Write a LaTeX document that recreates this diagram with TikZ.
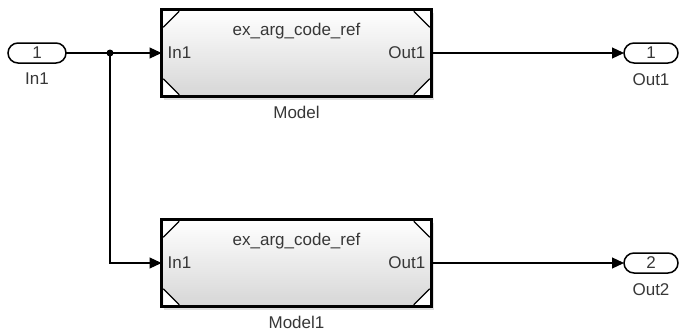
\documentclass[tikz,border=0pt]{standalone}
\usepackage{fontspec}
\setmainfont{Liberation Sans}
\usepackage{tikz}
\usetikzlibrary{arrows.meta, positioning, shadows}
\definecolor{blockgrey}{RGB}{214,214,214}
\definecolor{textgrey}{RGB}{55,55,55}

\begin{document}
\begin{tikzpicture}[x=1pt, y=1pt,
  lbl/.style={font=\fontsize{17}{19}\selectfont, text=textgrey, inner sep=0pt},
  refblock/.style={draw=black, line width=3.5pt, outer sep=0pt, minimum width=270pt, minimum height=87pt,
    top color=white, bottom color=blockgrey,
    drop shadow={opacity=0.25, shadow xshift=2pt, shadow yshift=-3pt}},
  port/.style={draw=black, line width=1.5pt, outer sep=0pt, rounded corners=10pt, minimum height=20pt, fill=white, lbl},
  sig/.style={line width=1.2pt, -{Triangle[length=12pt, width=11pt]}}
]
  \useasboundingbox (0,0) rectangle (681,-335);

  % Inport and outports
  \node[port, minimum width=58pt] (in1) at (37,-53) {1};
  \node[lbl, below=10pt of in1] (in1lbl) {In1};
  \node[port, minimum width=54pt] (out1) at (651,-53) {1};
  \node[lbl, below=10pt of out1] (out1lbl) {Out1};
  \node[port, minimum width=54pt] (out2) at (651,-263) {2};
  \node[lbl, below=10pt of out2] (out2lbl) {Out2};

  % Model
  \node[refblock] (model) at (296.5,-53) {};
  \node[lbl, anchor=north] (modelname) at ([yshift=-13pt]model.north) {ex\_arg\_code\_ref};
  \node[lbl, anchor=west] (modelin) at ([xshift=6pt]model.west) {In1};
  \node[lbl, anchor=east] (modelout) at ([xshift=-6pt]model.east) {Out1};
  \node[lbl, below=9pt of model] (modellbl) {Model};

  % Model1
  \node[refblock] (model1) at (296.5,-263) {};
  \node[lbl, anchor=north] (model1name) at ([yshift=-13pt]model1.north) {ex\_arg\_code\_ref};
  \node[lbl, anchor=west] (model1in) at ([xshift=6pt]model1.west) {In1};
  \node[lbl, anchor=east] (model1out) at ([xshift=-6pt]model1.east) {Out1};
  \node[lbl, below=9pt of model1] (model1lbl) {Model1};

  % corner marks of the model blocks
  \foreach \b in {model,model1}
    \foreach \c/\sx/\sy in {north west/1/-1, north east/-1/-1, south west/1/1, south east/-1/1} {
      \fill[white] ([shift={(1.75*\sx,1.75*\sy)}]\b.\c) -- ++(16*\sx,0) -- ++(-16*\sx,16*\sy) -- cycle;
      \draw[line width=1.2pt] ([shift={(1.75*\sx,17.75*\sy)}]\b.\c) -- ++(16*\sx,-16*\sy);
    }

  % signal lines
  \coordinate (split) at (110,-53);
  \draw[sig] (in1.east) -- (model.west);
  \draw[sig] (split) |- (model1.west);
  \fill (split) circle (3.5pt);
  \draw[sig] (model.east) -- (out1.west);
  \draw[sig] (model1.east) -- (out2.west);
\end{tikzpicture}
\end{document}
